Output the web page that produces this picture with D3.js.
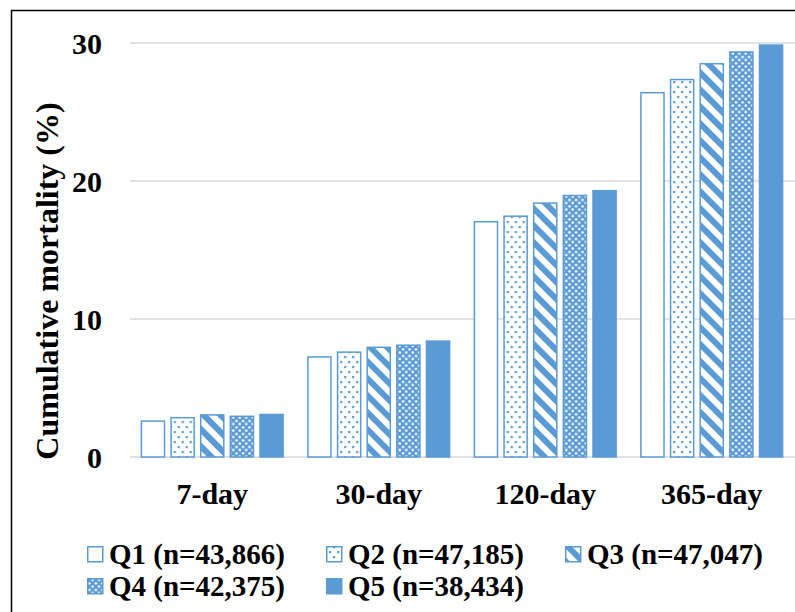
<!DOCTYPE html>
<html>
<head>
<meta charset="utf-8">
<script src="https://cdn.jsdelivr.net/npm/d3@7"></script>
<style>
  html, body { margin: 0; padding: 0; background: #fff; }
  svg { display: block; }
  text { font-family: "Liberation Serif", "Times New Roman", serif; font-weight: bold; fill: #000; }
</style>
</head>
<body>
<svg id="chart" width="795" height="612"></svg>
<script>
// Time points (x categories)
const periods = ["7-day", "30-day", "120-day", "365-day"];
// Quintile groups and their legend labels
const groups = ["Q1", "Q2", "Q3", "Q4", "Q5"];
const groupLabels = ["Q1 (n=43,866)", "Q2 (n=47,185)", "Q3 (n=47,047)", "Q4 (n=42,375)", "Q5 (n=38,434)"];
// Cumulative mortality (%) per quintile, one value per time point
const q1 = [2.6, 7.25, 17.05, 26.4];
const q2 = [2.85, 7.6, 17.45, 27.35];
const q3 = [3.05, 7.95, 18.4, 28.5];
const q4 = [2.95, 8.1, 18.95, 29.35];
const q5 = [3.08, 8.4, 19.3, 29.85];
const yTicks = [0, 10, 20, 30];

const seriesValues = [q1, q2, q3, q4, q5];
const blue = "#5B9BD5";

const svg = d3.select("#chart");
const W = 795, H = 612;
const margin = { left: 129, right: 0, top: 43, bottom: 155 };
const plotH = H - margin.top - margin.bottom;

// Outer frame
svg.append("rect")
  .attr("x", 11.5).attr("y", 10.5)
  .attr("width", W + 20).attr("height", H + 20)
  .attr("fill", "none").attr("stroke", "#000").attr("stroke-width", 1.5);

// Fill patterns for the quintiles
const defs = svg.append("defs");
const pDots = defs.append("pattern").attr("id", "pat-q2")
  .attr("patternUnits", "userSpaceOnUse").attr("width", 8).attr("height", 10);
pDots.append("rect").attr("width", 8).attr("height", 10).attr("fill", "#fff");
pDots.append("rect").attr("x", 1).attr("y", 1).attr("width", 2.2).attr("height", 2.2).attr("fill", blue);
pDots.append("rect").attr("x", 5).attr("y", 6).attr("width", 2.2).attr("height", 2.2).attr("fill", blue);

const pStripe = defs.append("pattern").attr("id", "pat-q3")
  .attr("patternUnits", "userSpaceOnUse").attr("width", 12).attr("height", 12)
  .attr("patternTransform", "rotate(-45)");
pStripe.append("rect").attr("width", 12).attr("height", 12).attr("fill", "#fff");
pStripe.append("rect").attr("width", 6).attr("height", 12).attr("fill", blue);

const pConf = defs.append("pattern").attr("id", "pat-q4")
  .attr("patternUnits", "userSpaceOnUse").attr("width", 6.5).attr("height", 6.5);
pConf.append("rect").attr("width", 6.5).attr("height", 6.5).attr("fill", blue);
pConf.append("circle").attr("cx", 1.6).attr("cy", 1.6).attr("r", 1.3).attr("fill", "#fff");
pConf.append("circle").attr("cx", 4.9).attr("cy", 4.9).attr("r", 1.3).attr("fill", "#fff");

const fills = ["#fff", "url(#pat-q2)", "url(#pat-q3)", "url(#pat-q4)", blue];

// Scales
const x0 = d3.scaleBand().domain(periods)
  .range([margin.left, W]).paddingInner(0.14).paddingOuter(0.07);
const x1 = d3.scaleBand().domain(groups)
  .range([0, x0.bandwidth()]).paddingInner(0.17);
const y = d3.scaleLinear().domain([0, 30]).range([margin.top + plotH, margin.top]);

// Gridlines
svg.append("g").selectAll("line").data(yTicks).join("line")
  .attr("x1", margin.left + 1).attr("x2", W)
  .attr("y1", d => y(d)).attr("y2", d => y(d))
  .attr("stroke", "#D9D9D9").attr("stroke-width", 1.5);

// Y axis tick labels
const yAxis = d3.axisLeft(y).tickValues(yTicks).tickSize(0).tickPadding(0);
const gy = svg.append("g").attr("transform", `translate(102,0)`).call(yAxis);
gy.select(".domain").remove();
gy.selectAll("text").attr("font-size", 30).attr("dy", "0.34em")
  .style("font-family", '"Liberation Serif", "Times New Roman", serif').style("font-weight", "bold").attr("fill", "#000");

// Y axis title
svg.append("text")
  .attr("transform", "translate(58,281) rotate(-90)")
  .attr("text-anchor", "middle").attr("font-size", 32)
  .text("Cumulative mortality (%)");

// Bars
const gBars = svg.append("g");
periods.forEach((p, i) => {
  const g = gBars.append("g").attr("transform", `translate(${x0(p)},0)`);
  groups.forEach((q, j) => {
    const v = seriesValues[j][i];
    g.append("rect")
      .attr("x", x1(q) + 0.75).attr("width", x1.bandwidth() - 1.5)
      .attr("y", y(v)).attr("height", y(0) - y(v))
      .attr("fill", fills[j]).attr("stroke", blue).attr("stroke-width", 1.5);
  });
});

// X axis labels
const xAxis = d3.axisBottom(x0).tickSize(0).tickPadding(0);
const gx = svg.append("g").attr("transform", `translate(0,${y(0)})`).call(xAxis);
gx.select(".domain").remove();
gx.selectAll("text").attr("font-size", 30).attr("dy", "1.55em")
  .style("font-family", '"Liberation Serif", "Times New Roman", serif').style("font-weight", "bold").attr("fill", "#000");

// Legend
const legendPos = [[87, 554], [326, 554], [565, 554], [87, 586], [326, 586]];
const legend = svg.append("g");
groups.forEach((q, j) => {
  const [lx, ly] = legendPos[j];
  legend.append("rect")
    .attr("x", lx + 0.75).attr("y", ly - 7.25).attr("width", 15).attr("height", 15)
    .attr("fill", fills[j]).attr("stroke", blue).attr("stroke-width", 1.5);
  legend.append("text")
    .attr("x", lx + 22).attr("y", ly).attr("dy", "0.34em")
    .attr("font-size", 29).text(groupLabels[j]);
});
</script>
</body>
</html>
